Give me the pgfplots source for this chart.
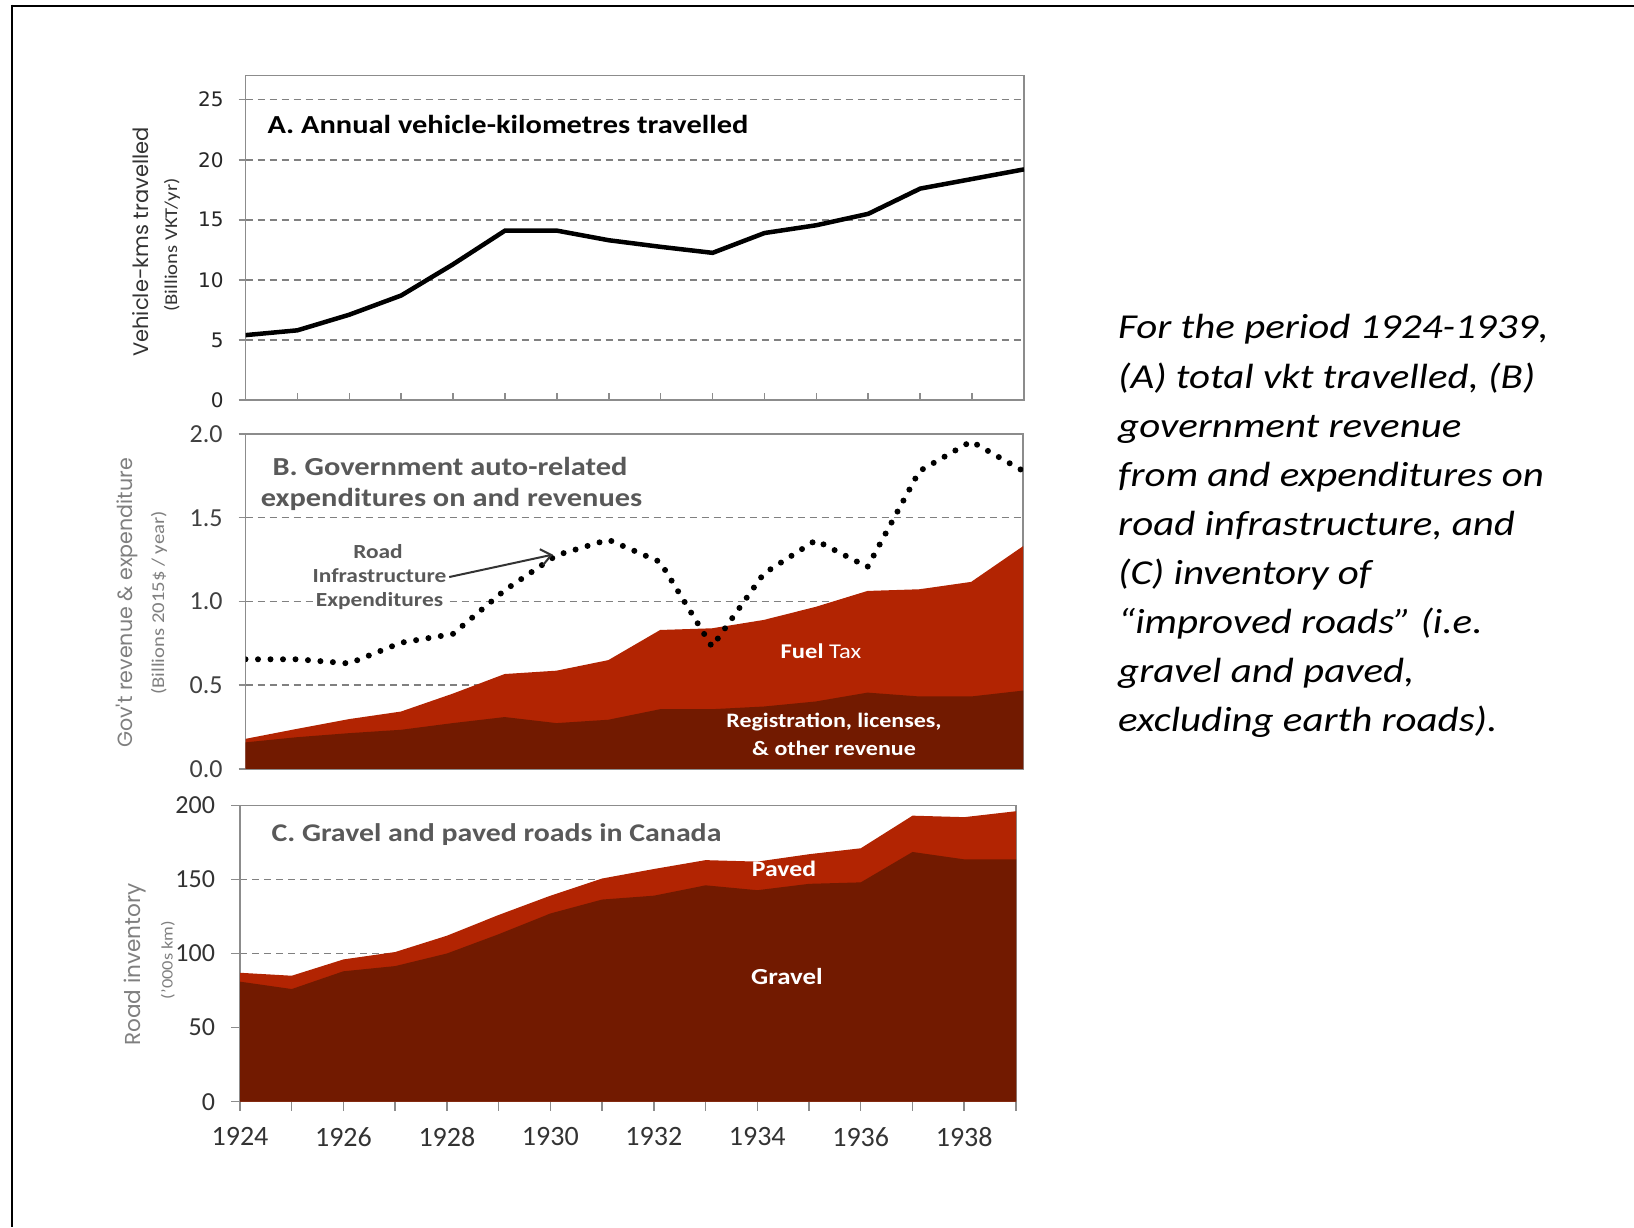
\documentclass[border=0pt]{standalone}
\usepackage{pgfplots}
\usepackage{pgfplotstable}
\usepackage{graphicx}
\pgfplotsset{compat=1.18}
\usepackage{fontspec}
\setmainfont{Carlito}
\newfontfamily\dejavu{DejaVu Sans}
\newfontfamily\popp{Poppins}
\usetikzlibrary{arrows.meta}

\definecolor{fuel}{RGB}{178,36,2}
\definecolor{reg}{RGB}{114,26,0}
\definecolor{axgray}{RGB}{140,140,140}
\definecolor{gridgray}{RGB}{128,128,128}
\definecolor{titlegray}{RGB}{89,89,89}
\definecolor{labgray}{RGB}{127,127,127}
\newcommand{\fs}[2]{\fontsize{#1}{#2}\selectfont}
\newcommand{\sx}[1]{\scalebox{1.17}[1]{#1}}

\pgfplotstableread{
year vkt
1924 5.4
1925 5.8
1926 7.1
1927 8.7
1928 11.3
1929 14.1
1930 14.1
1931 13.3
1932 12.75
1933 12.25
1934 13.9
1935 14.55
1936 15.5
1937 17.6
1938 18.4
1939 19.2
}\vkt

\pgfplotstableread{
year reg total exp
1924 0.159 0.180 0.655
1925 0.190 0.240 0.655
1926 0.214 0.298 0.630
1927 0.234 0.343 0.754
1928 0.274 0.450 0.806
1929 0.310 0.567 1.067
1930 0.274 0.587 1.276
1931 0.294 0.650 1.369
1932 0.357 0.830 1.236
1933 0.357 0.840 0.730
1934 0.373 0.890 1.167
1935 0.403 0.968 1.365
1936 0.456 1.063 1.206
1937 0.433 1.073 1.778
1938 0.433 1.117 1.956
1939 0.468 1.330 1.780
}\govt

\pgfplotstableread{
year gravel total
1924 81 87
1925 76 85
1926 88 96
1927 91.5 101
1928 100 112
1929 113 126
1930 127 139
1931 136.4 150.6
1932 139 157
1933 146 163
1934 142.7 162
1935 147 167
1936 148 171
1937 168.5 193
1938 163.5 192
1939 163.5 196
}\roads

\pgfplotsset{
  panel/.style={
    scale only axis, anchor=south west,
    xmin=1924, xmax=1939,
    axis line style={axgray, line width=1.5pt},
    xtick={1924,...,1939},
    xtick pos=left, ytick pos=left,
    major tick length=7pt,
    tick style={axgray, line width=1.5pt},
    ymajorgrids,
    grid style={gridgray, line width=1.5pt, dash pattern=on 7pt off 5pt},
  }
}

\begin{document}
\begin{tikzpicture}[x=1pt,y=1pt]
\path[use as bounding box] (0,0) rectangle (1634,1227);
\draw[line width=2.5pt] (10.75,1221) -- (1634,1221);
\draw[line width=2.5pt] (12,1222.25) -- (12,0);

% Panel A
\begin{axis}[panel, at={(245.5pt,827pt)}, width=778.5pt, height=324.3pt,
  ymin=0, ymax=27, ytick={0,5,10,15,20,25}, yticklabels={0,5,10,15,20,25},
  xticklabels={}, xtick align=inside, ytick align=outside,
  yticklabel style={font=\dejavu\fs{20}{24}, text=black!85, xshift=-11.5pt}]
\addplot[black, line width=4.5pt] table[x=year,y=vkt]{\vkt};
\end{axis}

% Panel B
\begin{axis}[panel, at={(245.5pt,458pt)}, width=777.5pt, height=335pt,
  ymin=0, ymax=2, ytick={0,0.5,1,1.5,2}, yticklabels={0.0,0.5,1.0,1.5,2.0},
  xticklabels={}, xtick align=inside, ytick align=outside,
  yticklabel style={font=\fs{26}{30}, text=black!75, xshift=-12.5pt}]
\addplot[draw=none, fill=fuel] table[x=year,y=total]{\govt} \closedcycle;
\addplot[draw=none, fill=reg] table[x=year,y=reg]{\govt} \closedcycle;
\addplot[black, line width=6pt, line cap=round, dash pattern=on 0pt off 12.5pt] table[x=year,y=exp]{\govt};
\draw[black!80, line width=2pt, -{Straight Barb[length=10pt,width=16pt]}] (axis cs:1927.93,1.146) -- (axis cs:1929.93,1.28);
\end{axis}

% Panel C
\begin{axis}[panel, at={(240pt,125.3pt)}, width=776pt, height=296.4pt,
  ymin=0, ymax=200, ytick={0,50,100,150,200}, yticklabels={0,50,100,150,200},
  xticklabels={1924,,1926,,1928,,1930,,1932,,1934,,1936,,1938,},
  tick align=outside, major tick length=9pt,
  yticklabel style={font=\fs{26}{30}, text=black!80, xshift=-12.5pt},
  xticklabel style={font=\fs{28}{32}, text=black!80, yshift=-13.5pt}]
\addplot[draw=none, fill=fuel] table[x=year,y=total]{\roads} \closedcycle;
\addplot[draw=none, fill=reg] table[x=year,y=gravel]{\roads} \closedcycle;
\end{axis}

% panel titles
\node[anchor=west, font=\bfseries\fs{26}{30}, text=black] at (264,1103) {\sx{A. Annual vehicle-kilometres travelled}};
\node[font=\bfseries\fs{26}{30}, text=titlegray] at (450,761) {\sx{B. Government auto-related}};
\node[font=\bfseries\fs{26}{30}, text=titlegray] at (451.5,728) {\sx{expenditures on and revenues}};
\node[anchor=west, font=\bfseries\fs{25.5}{30}, text=titlegray] at (268,392) {\sx{C. Gravel and paved roads in Canada}};

% annotation
\node[font=\bfseries\fs{20}{24}, text=titlegray] at (378,675) {\sx{Road}};
\node[font=\bfseries\fs{20}{24}, text=titlegray] at (379.5,651) {\sx{Infrastructure}};
\node[font=\bfseries\fs{20}{24}, text=titlegray, fill=white, inner sep=2pt] at (379.5,626) {\sx{Expenditures}};

% in-area labels
\node[font=\fs{21}{24}, text=white] at (821,576) {\sx{\textbf{Fuel} Tax}};
\node[font=\bfseries\fs{20.5}{24}, text=white] at (834,505) {\sx{Registration, licenses,}};
\node[font=\bfseries\fs{20.5}{24}, text=white] at (834,479) {\sx{\& other revenue}};
\node[font=\bfseries\fs{22}{26}, text=white] at (784,358) {\sx{Paved}};
\node[font=\bfseries\fs{23}{26}, text=white] at (787,250) {\sx{Gravel}};

% y-axis titles
\node[rotate=90, font=\popp\fs{21}{24}, text=black!80] at (141,985) {Vehicle-kms travelled};
\node[rotate=90, font=\fs{18}{22}, text=black!80] at (172,982) {\scalebox{1.15}[1]{(Billions VKT/yr)}};
\node[rotate=90, font=\popp\fs{20.6}{24}, text=labgray] at (127,624) {Gov't revenue \& expenditure};
\node[rotate=90, font=\fs{18}{22}, text=labgray] at (159,624) {\scalebox{1.15}[1]{(Billions 2015\$ / year)}};
\node[rotate=90, font=\popp\fs{21.6}{24}, text=labgray] at (135,262.5) {Road inventory};
\node[rotate=90, font=\fs{16}{20}, text=labgray] at (168,267) {\scalebox{1.15}[1]{('000s km)}};

% caption text
\begin{scope}[every node/.style={anchor=base west, font=\itshape\fs{35}{40}, inner sep=0pt}]
\node at (1118,888) {\sx{For the period 1924-1939,}};
\node at (1118,838.9) {\sx{(A) total vkt travelled, (B)}};
\node at (1118,789.8) {\sx{government revenue}};
\node at (1118,740.7) {\sx{from and expenditures on}};
\node at (1118,691.6) {\sx{road infrastructure, and}};
\node at (1118,642.5) {\sx{(C) inventory of}};
\node at (1118,593.4) {\sx{“improved roads” (i.e.}};
\node at (1118,544.3) {\sx{gravel and paved,}};
\node at (1118,495.2) {\sx{excluding earth roads).}};
\end{scope}
\end{tikzpicture}
\end{document}
